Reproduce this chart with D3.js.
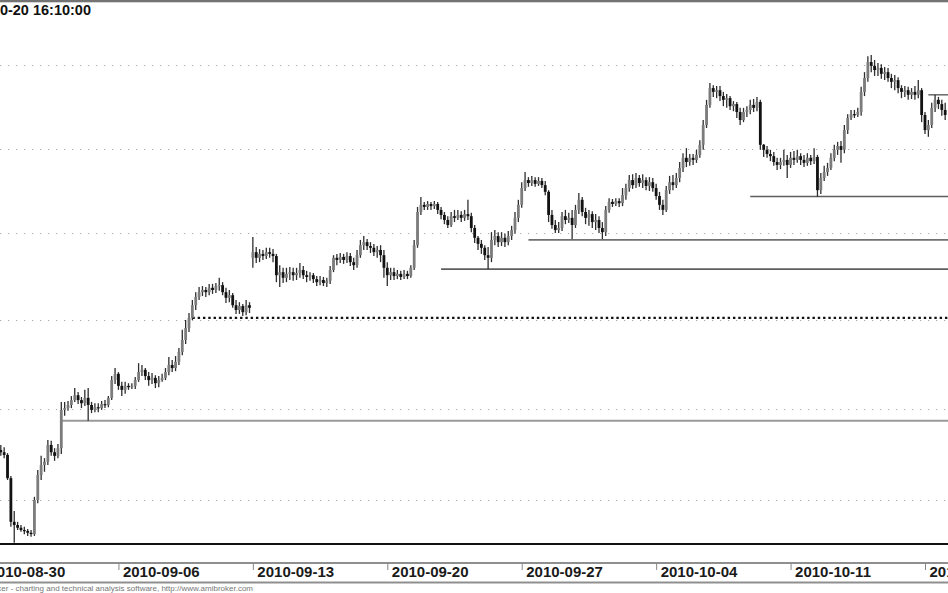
<!DOCTYPE html>
<html><head><meta charset="utf-8">
<script src="https://cdn.jsdelivr.net/npm/d3@7"></script>
<style>
html,body{margin:0;padding:0;background:#fff;overflow:hidden}
svg{display:block}
</style></head><body>
<svg id="c" width="948" height="593"></svg>
<script>
// ---- data ----
const firstBar = 5; // index of the first bar in the arrays (40 bars per week, week of 2010-08-30 starts at 0)
const openVals = [
1.3110,1.3105,1.3099,1.3048,1.2952,1.2945,1.2939,1.2934,1.2932,1.2928,
1.2925,1.3000,1.3055,1.3077,1.3084,1.3121,1.3105,1.3097,1.3114,1.3198,
1.3202,1.3209,1.3220,1.3231,1.3220,1.3213,1.3225,1.3209,1.3198,1.3204,
1.3202,1.3211,1.3209,1.3225,1.3265,1.3279,1.3252,1.3243,1.3252,1.3249,
1.3252,1.3265,1.3283,1.3288,1.3274,1.3265,1.3270,1.3258,1.3265,1.3270,
1.3283,1.3299,1.3292,1.3306,1.3328,1.3355,1.3382,1.3405,1.3434,1.3453,
1.3464,1.3469,1.3464,1.3474,1.3469,1.3478,1.3480,1.3464,1.3451,1.3457,
1.3434,1.3423,1.3432,1.3418,1.3434,1.3543,1.3556,1.3543,1.3552,1.3547,
1.3556,1.3552,1.3547,1.3503,1.3510,1.3497,1.3506,1.3510,1.3503,1.3508,
1.3515,1.3503,1.3499,1.3503,1.3494,1.3487,1.3492,1.3485,1.3490,1.3515,
1.3543,1.3538,1.3545,1.3538,1.3547,1.3533,1.3526,1.3549,1.3572,1.3579,
1.3570,1.3566,1.3556,1.3561,1.3549,1.3520,1.3503,1.3510,1.3501,1.3506,
1.3499,1.3506,1.3501,1.3520,1.3572,1.3650,1.3667,1.3662,1.3669,1.3664,
1.3669,1.3655,1.3643,1.3631,1.3619,1.3640,1.3636,1.3643,1.3636,1.3645,
1.3640,1.3612,1.3589,1.3575,1.3566,1.3549,1.3543,1.3584,1.3593,1.3579,
1.3589,1.3579,1.3593,1.3607,1.3636,1.3667,1.3707,1.3726,1.3719,1.3726,
1.3717,1.3724,1.3714,1.3698,1.3643,1.3619,1.3607,1.3612,1.3640,1.3631,
1.3636,1.3619,1.3655,1.3679,1.3650,1.3636,1.3645,1.3626,1.3631,1.3612,
1.3602,1.3655,1.3674,1.3669,1.3676,1.3671,1.3690,1.3707,1.3726,1.3714,
1.3731,1.3719,1.3726,1.3712,1.3721,1.3707,1.3688,1.3667,1.3655,1.3702,
1.3721,1.3714,1.3731,1.3755,1.3779,1.3769,1.3779,1.3774,1.3786,1.3810,
1.3857,1.3905,1.3945,1.3936,1.3940,1.3926,1.3917,1.3921,1.3902,1.3907,
1.3888,1.3869,1.3888,1.3893,1.3905,1.3898,1.3912,1.3810,1.3798,1.3788,
1.3783,1.3769,1.3762,1.3769,1.3774,1.3762,1.3779,1.3774,1.3783,1.3774,
1.3767,1.3779,1.3771,1.3781,1.3702,1.3731,1.3745,1.3755,1.3779,1.3798,
1.3807,1.3798,1.3845,1.3874,1.3883,1.3881,1.3888,1.3936,1.3969,1.4007,
1.3998,1.3988,1.3993,1.3979,1.3983,1.3969,1.3960,1.3964,1.3945,1.3936,
1.3940,1.3929,1.3936,1.3929,1.3940,1.3881,1.3845,1.3857,1.3898,1.3917,
1.3907,1.3893];
const highVals = [
1.3121,1.3116,1.3103,1.3053,1.2976,1.2952,1.2945,1.2941,1.2936,1.2934,
1.3007,1.3066,1.3097,1.3092,1.3132,1.3130,1.3114,1.3123,1.3216,1.3216,
1.3218,1.3229,1.3247,1.3238,1.3227,1.3243,1.3247,1.3216,1.3213,1.3213,
1.3218,1.3220,1.3229,1.3274,1.3292,1.3283,1.3261,1.3261,1.3258,1.3258,
1.3272,1.3303,1.3299,1.3292,1.3283,1.3281,1.3276,1.3274,1.3279,1.3292,
1.3317,1.3310,1.3319,1.3337,1.3378,1.3400,1.3416,1.3446,1.3464,1.3476,
1.3478,1.3476,1.3483,1.3483,1.3485,1.3497,1.3487,1.3474,1.3469,1.3462,
1.3446,1.3441,1.3437,1.3446,1.3441,1.3591,1.3568,1.3563,1.3561,1.3566,
1.3566,1.3563,1.3552,1.3526,1.3520,1.3520,1.3522,1.3520,1.3520,1.3531,
1.3524,1.3513,1.3510,1.3508,1.3501,1.3501,1.3499,1.3497,1.3524,1.3549,
1.3552,1.3554,1.3552,1.3556,1.3554,1.3543,1.3561,1.3584,1.3593,1.3586,
1.3579,1.3575,1.3570,1.3572,1.3561,1.3533,1.3520,1.3520,1.3515,1.3513,
1.3515,1.3513,1.3526,1.3584,1.3662,1.3686,1.3674,1.3676,1.3674,1.3676,
1.3674,1.3662,1.3650,1.3640,1.3650,1.3655,1.3655,1.3652,1.3655,1.3679,
1.3648,1.3619,1.3593,1.3584,1.3572,1.3568,1.3602,1.3607,1.3602,1.3602,
1.3598,1.3605,1.3617,1.3650,1.3679,1.3721,1.3745,1.3733,1.3736,1.3733,
1.3733,1.3731,1.3724,1.3702,1.3655,1.3631,1.3626,1.3650,1.3655,1.3648,
1.3655,1.3667,1.3695,1.3686,1.3660,1.3655,1.3652,1.3645,1.3640,1.3626,
1.3664,1.3683,1.3681,1.3683,1.3683,1.3707,1.3717,1.3738,1.3740,1.3743,
1.3738,1.3740,1.3733,1.3733,1.3731,1.3717,1.3698,1.3679,1.3712,1.3736,
1.3738,1.3743,1.3769,1.3790,1.3802,1.3788,1.3788,1.3798,1.3821,1.3869,
1.3917,1.3957,1.3952,1.3950,1.3950,1.3936,1.3931,1.3926,1.3914,1.3912,
1.3898,1.3898,1.3902,1.3917,1.3919,1.3924,1.3917,1.3812,1.3807,1.3798,
1.3793,1.3779,1.3779,1.3798,1.3786,1.3793,1.3795,1.3798,1.3790,1.3786,
1.3790,1.3786,1.3802,1.3786,1.3743,1.3760,1.3767,1.3790,1.3810,1.3817,
1.3819,1.3857,1.3883,1.3893,1.3893,1.3898,1.3948,1.3983,1.4021,1.4024,
1.4012,1.4005,1.4002,1.3995,1.3993,1.3979,1.3976,1.3971,1.3952,1.3950,
1.3948,1.3945,1.3950,1.3964,1.3945,1.3888,1.3869,1.3910,1.3929,1.3924,
1.3917,1.3910];
const lowVals = [
1.3097,1.3092,1.3044,1.2941,1.2906,1.2934,1.2930,1.2925,1.2921,1.2919,
1.2921,1.2993,1.3044,1.3062,1.3077,1.3097,1.3086,1.3092,1.3101,1.3185,
1.3196,1.3202,1.3216,1.3211,1.3202,1.3207,1.3174,1.3191,1.3193,1.3193,
1.3198,1.3202,1.3204,1.3220,1.3256,1.3243,1.3229,1.3234,1.3243,1.3245,
1.3245,1.3261,1.3274,1.3265,1.3252,1.3256,1.3247,1.3249,1.3261,1.3265,
1.3276,1.3283,1.3285,1.3299,1.3321,1.3346,1.3373,1.3400,1.3423,1.3446,
1.3455,1.3453,1.3457,1.3460,1.3462,1.3467,1.3457,1.3439,1.3441,1.3428,
1.3414,1.3414,1.3409,1.3411,1.3416,1.3520,1.3531,1.3533,1.3538,1.3540,
1.3543,1.3533,1.3487,1.3476,1.3485,1.3487,1.3492,1.3490,1.3492,1.3497,
1.3494,1.3487,1.3490,1.3485,1.3478,1.3480,1.3478,1.3476,1.3483,1.3510,
1.3526,1.3531,1.3529,1.3531,1.3524,1.3515,1.3520,1.3543,1.3561,1.3561,
1.3554,1.3547,1.3543,1.3533,1.3497,1.3478,1.3492,1.3492,1.3494,1.3492,
1.3494,1.3494,1.3497,1.3515,1.3566,1.3643,1.3655,1.3655,1.3655,1.3657,
1.3645,1.3633,1.3621,1.3612,1.3614,1.3626,1.3631,1.3626,1.3629,1.3631,
1.3602,1.3577,1.3561,1.3552,1.3538,1.3517,1.3533,1.3572,1.3568,1.3570,
1.3568,1.3572,1.3584,1.3598,1.3626,1.3660,1.3700,1.3710,1.3712,1.3710,
1.3712,1.3707,1.3690,1.3626,1.3610,1.3600,1.3600,1.3605,1.3621,1.3624,
1.3586,1.3612,1.3645,1.3640,1.3621,1.3617,1.3612,1.3607,1.3600,1.3586,
1.3593,1.3648,1.3662,1.3664,1.3662,1.3664,1.3679,1.3698,1.3705,1.3707,
1.3710,1.3707,1.3702,1.3700,1.3698,1.3679,1.3655,1.3643,1.3650,1.3693,
1.3702,1.3707,1.3721,1.3745,1.3757,1.3760,1.3762,1.3767,1.3779,1.3798,
1.3850,1.3898,1.3924,1.3921,1.3914,1.3902,1.3898,1.3893,1.3890,1.3874,
1.3857,1.3864,1.3876,1.3883,1.3888,1.3890,1.3798,1.3781,1.3779,1.3771,
1.3760,1.3750,1.3752,1.3760,1.3731,1.3755,1.3762,1.3767,1.3762,1.3757,
1.3760,1.3762,1.3764,1.3686,1.3693,1.3724,1.3736,1.3750,1.3771,1.3786,
1.3767,1.3790,1.3836,1.3869,1.3874,1.3876,1.3879,1.3926,1.3960,1.3983,
1.3974,1.3974,1.3967,1.3964,1.3960,1.3945,1.3940,1.3933,1.3921,1.3924,
1.3917,1.3919,1.3917,1.3921,1.3864,1.3836,1.3829,1.3850,1.3888,1.3895,
1.3879,1.3869];
const closeVals = [
1.3105,1.3099,1.3048,1.2952,1.2945,1.2939,1.2934,1.2932,1.2928,1.2925,
1.3000,1.3055,1.3077,1.3084,1.3121,1.3105,1.3097,1.3114,1.3198,1.3202,
1.3209,1.3220,1.3231,1.3220,1.3213,1.3225,1.3209,1.3198,1.3204,1.3202,
1.3211,1.3209,1.3225,1.3265,1.3279,1.3252,1.3243,1.3252,1.3249,1.3252,
1.3265,1.3283,1.3288,1.3274,1.3265,1.3270,1.3258,1.3265,1.3270,1.3283,
1.3299,1.3292,1.3306,1.3328,1.3355,1.3382,1.3405,1.3434,1.3453,1.3464,
1.3469,1.3464,1.3474,1.3469,1.3478,1.3480,1.3464,1.3451,1.3457,1.3434,
1.3423,1.3432,1.3418,1.3434,1.3428,1.3556,1.3543,1.3552,1.3547,1.3556,
1.3552,1.3547,1.3503,1.3510,1.3497,1.3506,1.3510,1.3503,1.3508,1.3515,
1.3503,1.3499,1.3503,1.3494,1.3487,1.3492,1.3485,1.3490,1.3515,1.3543,
1.3538,1.3545,1.3538,1.3547,1.3533,1.3526,1.3549,1.3572,1.3579,1.3570,
1.3566,1.3556,1.3561,1.3549,1.3520,1.3503,1.3510,1.3501,1.3506,1.3499,
1.3506,1.3501,1.3520,1.3572,1.3650,1.3667,1.3662,1.3669,1.3664,1.3669,
1.3655,1.3643,1.3631,1.3619,1.3640,1.3636,1.3643,1.3636,1.3645,1.3640,
1.3612,1.3589,1.3575,1.3566,1.3549,1.3543,1.3584,1.3593,1.3579,1.3589,
1.3579,1.3593,1.3607,1.3636,1.3667,1.3707,1.3726,1.3719,1.3726,1.3717,
1.3724,1.3714,1.3698,1.3643,1.3619,1.3607,1.3612,1.3640,1.3631,1.3636,
1.3619,1.3655,1.3679,1.3650,1.3636,1.3645,1.3626,1.3631,1.3612,1.3602,
1.3655,1.3674,1.3669,1.3676,1.3671,1.3690,1.3707,1.3726,1.3714,1.3731,
1.3719,1.3726,1.3712,1.3721,1.3707,1.3688,1.3667,1.3655,1.3702,1.3721,
1.3714,1.3731,1.3755,1.3779,1.3769,1.3779,1.3774,1.3786,1.3810,1.3857,
1.3905,1.3945,1.3936,1.3940,1.3926,1.3917,1.3921,1.3902,1.3907,1.3888,
1.3869,1.3888,1.3893,1.3905,1.3898,1.3912,1.3810,1.3798,1.3788,1.3783,
1.3769,1.3762,1.3769,1.3774,1.3762,1.3779,1.3774,1.3783,1.3774,1.3767,
1.3779,1.3771,1.3781,1.3702,1.3731,1.3745,1.3755,1.3779,1.3798,1.3807,
1.3798,1.3845,1.3874,1.3883,1.3881,1.3888,1.3936,1.3969,1.4007,1.3998,
1.3988,1.3993,1.3979,1.3983,1.3969,1.3960,1.3964,1.3945,1.3936,1.3940,
1.3929,1.3936,1.3929,1.3940,1.3881,1.3845,1.3857,1.3898,1.3917,1.3907,
1.3893,1.3881];
const weekLabels = ["2010-08-30","2010-09-06","2010-09-13","2010-09-20","2010-09-27","2010-10-04","2010-10-11","2010-10-18"];
const weekStartBars = [0,40,80,120,160,200,240,280];
const gridValues = [1.30,1.32,1.34,1.36,1.38,1.40];
const levelValues = [1.3174,1.3405,1.3517,1.3584,1.3687,1.3929];
const levelStartBars = [23,62,136,162,228,281];
const titleText = "2010-10-20 16:10:00";
const footerText = "AmiBroker - charting and technical analysis software, http://www.amibroker.com";

// ---- layout ----
const W = 948, H = 593, plotBottom = 544;
const svg = d3.select("#c");
const x = d3.scaleLinear().domain([0, 280]).range([-16, 925]);
const y = d3.scaleLinear().domain(gridValues).range([500, 409, 320, 233, 149, 65]);
const font = "'Liberation Sans', Arial, Helvetica, sans-serif";

const levelStyles = [
  {stroke:"#9a9a9a", width:2, dash:null},
  {stroke:"#111", width:2.4, dash:"2.4 2.9"},
  {stroke:"#5e5e5e", width:1.6, dash:null},
  {stroke:"#707070", width:1.8, dash:null},
  {stroke:"#5e5e5e", width:1.6, dash:null},
  {stroke:"#5e5e5e", width:1.4, dash:null}
];

// top border
svg.append("rect").attr("x",0).attr("y",0).attr("width",W).attr("height",2.3).attr("fill","#737373");

// grid
const gGrid = svg.append("g").call(d3.axisLeft(y).tickValues(gridValues).tickSize(-W).tickFormat(""));
gGrid.select(".domain").remove();
gGrid.selectAll(".tick line").attr("stroke","#a8a8a8").attr("stroke-width",1.2).attr("stroke-dasharray","1.2 6.8");

// clip
svg.append("clipPath").attr("id","plotclip").append("rect").attr("x",0).attr("y",0).attr("width",W).attr("height",plotBottom);

// levels
const gLev = svg.append("g").attr("clip-path","url(#plotclip)");
levelValues.forEach((v,k)=>{
  const st = levelStyles[k];
  const ln = gLev.append("line")
    .attr("x1", x(levelStartBars[k])).attr("x2", W)
    .attr("y1", y(v)).attr("y2", y(v))
    .attr("stroke", st.stroke).attr("stroke-width", st.width);
  if (st.dash) ln.attr("stroke-dasharray", st.dash);
});

// candles
const n = Math.min(openVals.length, highVals.length, lowVals.length, closeVals.length);
const bars = d3.range(n).map(k => ({i:firstBar+k, o:openVals[k], h:highVals[k], l:lowVals[k], c:closeVals[k]}));
const gBars = svg.append("g").attr("clip-path","url(#plotclip)");
const bw = 2.8;
gBars.selectAll("line.wick").data(bars).join("line").attr("class","wick")
  .attr("x1", d=>x(d.i)).attr("x2", d=>x(d.i))
  .attr("y1", d=>y(d.h)).attr("y2", d=>y(d.l))
  .attr("stroke","#2e2e2e").attr("stroke-width",1.3);
gBars.selectAll("rect.body").data(bars).join("rect").attr("class","body")
  .attr("x", d=>x(d.i)-bw/2).attr("width", bw)
  .attr("y", d=>Math.min(y(d.o),y(d.c)))
  .attr("height", d=>Math.max(1.2, Math.abs(y(d.o)-y(d.c))))
  .attr("fill", d=> d.c>=d.o ? "#7c7c7c" : "#121212");

// bottom plot line
svg.append("line").attr("x1",0).attr("x2",W).attr("y1",plotBottom).attr("y2",plotBottom)
  .attr("stroke","#111").attr("stroke-width",2);

// x axis band
svg.append("line").attr("x1",0).attr("x2",W).attr("y1",563).attr("y2",563).attr("stroke","#8f8f8f").attr("stroke-width",2);
svg.append("line").attr("x1",0).attr("x2",W).attr("y1",582.5).attr("y2",582.5).attr("stroke","#8f8f8f").attr("stroke-width",2);
const gx = svg.append("g").attr("transform","translate(0,563)")
  .call(d3.axisBottom(x).tickValues(weekStartBars).tickFormat((d,k)=>weekLabels[k]).tickSize(7).tickSizeOuter(0));
gx.select(".domain").remove();
gx.selectAll(".tick line").attr("stroke","#888").attr("stroke-width",1);
gx.selectAll(".tick text").attr("text-anchor","start").attr("x",4).attr("y",3).attr("dy","0.72em")
  .attr("fill","#1a1a1a").style("font-family",font).style("font-weight","bold").style("font-size","15px");

// title
svg.append("text").attr("x",91).attr("y",15).attr("text-anchor","end")
  .style("font-family",font).style("font-weight","bold").style("font-size","14.5px").attr("fill","#111")
  .text(titleText);

// footer
svg.append("text").attr("x",253).attr("y",591).attr("text-anchor","end")
  .style("font-family",font).style("font-size","8px").attr("fill","#777")
  .text(footerText);
</script>
</body></html>
